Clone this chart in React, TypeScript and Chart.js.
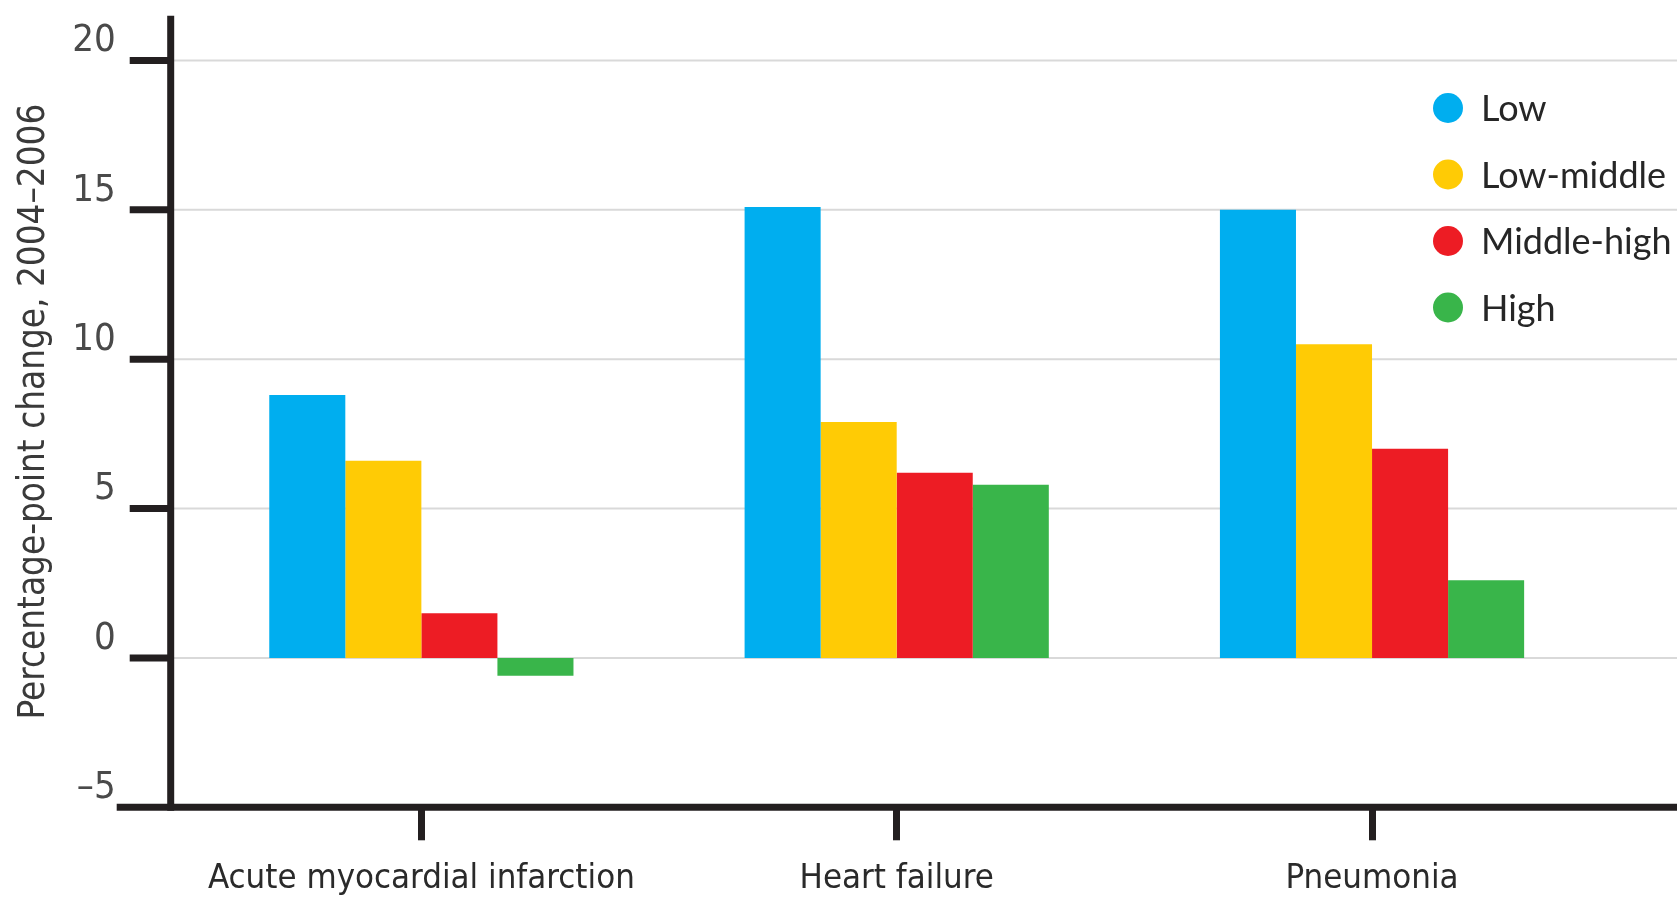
import React, { useEffect, useRef } from 'react';
import { Chart, registerables } from 'chart.js';

Chart.register(...registerables);

const categories = ['Acute myocardial infarction', 'Heart failure', 'Pneumonia'];
const seriesNames = ['Low', 'Low-middle', 'Middle-high', 'High'];
const lowValues = [8.8, 15.1, 15.0];
const lowMiddleValues = [6.6, 7.9, 10.5];
const middleHighValues = [1.5, 6.2, 7.0];
const highValues = [-0.6, 5.8, 2.6];
const seriesColors = ['#00AEEF', '#FFCB05', '#ED1C24', '#39B54A'];
const yTickValues = [-5, 0, 5, 10, 15, 20];
const yTickLabels = ['–5', '0', '5', '10', '15', '20'];
const yTitle = 'Percentage-point change, 2004–2006';

const NARROW = "'Liberation Sans Narrow', 'DejaVu Sans Condensed', 'Arial Narrow', sans-serif";
const AXIS_COLOR = '#231f20';

const axesPlugin = {
  id: 'axesPlugin',
  beforeDatasetsDraw(chart: any) {
    const { ctx, chartArea, width } = chart;
    const y = chart.scales.y;
    const axisX = chartArea.left - 13;
    ctx.save();
    ctx.strokeStyle = '#d9d9d9';
    ctx.lineWidth = 2;
    yTickValues.forEach((v) => {
      if (v <= y.min) return;
      const py = y.getPixelForValue(v);
      ctx.beginPath();
      ctx.moveTo(axisX, py);
      ctx.lineTo(width, py);
      ctx.stroke();
    });
    ctx.restore();
  },
  afterDatasetsDraw(chart: any) {
    const { ctx, chartArea, width } = chart;
    const y = chart.scales.y;
    const axisX = chartArea.left - 13;
    ctx.save();
    ctx.strokeStyle = AXIS_COLOR;
    ctx.lineWidth = 7;
    ctx.lineCap = 'butt';
    yTickValues.forEach((v) => {
      if (v <= y.min) return;
      const py = y.getPixelForValue(v);
      ctx.beginPath();
      ctx.moveTo(axisX - 41, py);
      ctx.lineTo(axisX, py);
      ctx.stroke();
    });
    ctx.beginPath();
    ctx.moveTo(axisX, chartArea.top);
    ctx.lineTo(axisX, chartArea.bottom + 3.5);
    ctx.stroke();
    ctx.beginPath();
    ctx.moveTo(axisX - 54, chartArea.bottom);
    ctx.lineTo(width, chartArea.bottom);
    ctx.stroke();
    ctx.restore();
  },
};

const legendPlugin = {
  id: 'pointLegend',
  afterDraw(chart: any) {
    const { ctx } = chart;
    ctx.save();
    chart.data.datasets.forEach((ds: any, i: number) => {
      const cy = 108 + i * 66.5;
      ctx.fillStyle = ds.backgroundColor;
      ctx.beginPath();
      ctx.arc(1448, cy, 15, 0, Math.PI * 2);
      ctx.fill();
      ctx.fillStyle = '#262626';
      ctx.font = '36px Lato, sans-serif';
      ctx.textAlign = 'left';
      ctx.textBaseline = 'alphabetic';
      ctx.fillText(ds.label, 1481, cy + 13);
    });
    ctx.restore();
  },
};

export default function App() {
  const canvasRef = useRef<HTMLCanvasElement | null>(null);

  useEffect(() => {
    const canvas = canvasRef.current;
    if (!canvas) return;
    const seriesValues = [lowValues, lowMiddleValues, middleHighValues, highValues];
    const chart = new Chart(canvas, {
      type: 'bar',
      data: {
        labels: categories,
        datasets: seriesNames.map((name, i) => ({
          label: name,
          data: seriesValues[i],
          backgroundColor: seriesColors[i],
          borderWidth: 0,
          barPercentage: 1,
          categoryPercentage: 0.64,
        })),
      },
      options: {
        animation: false,
        responsive: false,
        devicePixelRatio: 1,
        layout: { padding: { top: 15.7, right: 67.3, left: 0, bottom: 0 } },
        plugins: {
          legend: { display: false },
          tooltip: { enabled: false },
        },
        scales: {
          x: {
            type: 'category',
            offset: true,
            afterFit: (scale: any) => {
              scale.height = 91.7;
              scale.paddingLeft = 0;
              scale.paddingRight = 0;
            },
            grid: {
              display: true,
              drawOnChartArea: false,
              drawTicks: true,
              tickLength: 33,
              tickWidth: 7,
              tickColor: AXIS_COLOR,
              offset: false,
            },
            border: { display: false },
            ticks: {
              color: '#2a2a2a',
              padding: 18,
              maxRotation: 0,
              autoSkip: false,
              font: { family: NARROW, size: 34.5 },
            },
          },
          y: {
            type: 'linear',
            min: -5,
            max: 21.5,
            afterFit: (scale: any) => {
              scale.width = 183.7;
              scale.paddingTop = 0;
              scale.paddingBottom = 0;
            },
            grid: { display: false, drawTicks: false },
            border: { display: false },
            ticks: {
              stepSize: 5,
              includeBounds: false,
              padding: 68,
              labelOffset: -19,
              color: '#4a4a4a',
              font: { family: NARROW, size: 38 },
              callback: (value: any) => {
                const idx = yTickValues.indexOf(Number(value));
                return idx >= 0 ? yTickLabels[idx] : '';
              },
            },
            title: {
              display: true,
              text: yTitle,
              color: '#3a3a3a',
              font: { family: NARROW, size: 36.5 },
              padding: { top: 13, bottom: 0 },
            },
          },
        },
      },
      plugins: [axesPlugin, legendPlugin],
    });
    return () => chart.destroy();
  }, []);

  return (
    <div style={{ position: 'absolute', left: 0, top: 0, width: 1677, height: 899, background: '#fff' }}>
      <canvas ref={canvasRef} width={1677} height={899} style={{ display: 'block' }} />
    </div>
  );
}
